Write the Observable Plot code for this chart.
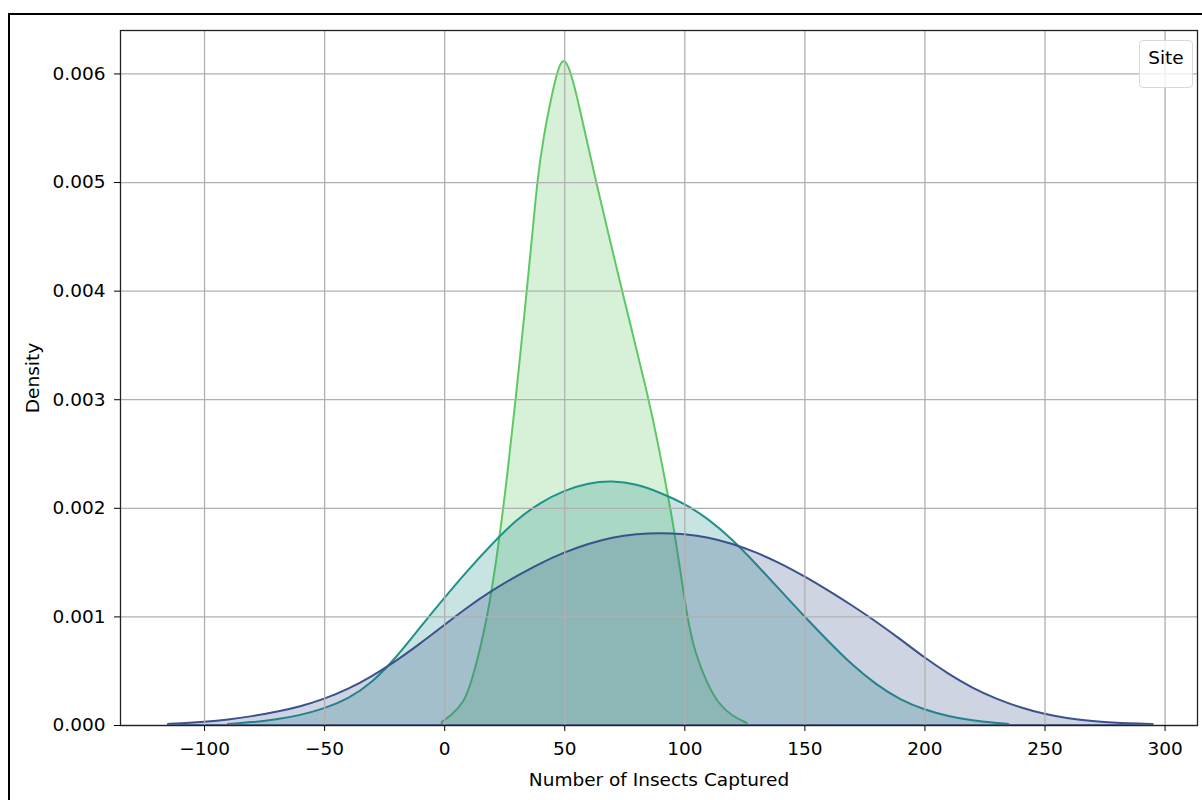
<!DOCTYPE html>
<html>
<head>
<meta charset="utf-8">
<script src="https://cdn.jsdelivr.net/npm/d3@7"></script>
<script src="https://cdn.jsdelivr.net/npm/@observablehq/plot@0.6"></script>
<style>
  html, body { margin: 0; padding: 0; background: #fff; overflow: hidden; width: 1202px; height: 800px; }
  #wrap { position: relative; width: 1202px; height: 800px; }
  #outer { position: absolute; left: 8px; top: 13px; width: 1300px; height: 900px; border: 2px solid #000; box-sizing: border-box; pointer-events: none; }
  #legend { position: absolute; left: 1139px; top: 40px; width: 54px; height: 48px; box-sizing: border-box;
            border: 1px solid #d9d9d9; border-radius: 4px; background: rgba(255,255,255,0.8);
            font-family: "DejaVu Sans", sans-serif; font-size: 18.5px; color: #000; text-align: center; line-height: 34px; }
  #chart { position: absolute; left: 0; top: 0; }
</style>
</head>
<body>
<div id="wrap">
  <div id="chart"></div>
  <div id="outer"></div>
  <div id="legend">Site</div>
</div>
<script>
// Site names (legend shows only the title "Site")
const sites = ["Site A", "Site B", "Site C"];
const siteColors = ["#3b528b", "#21918c", "#5ec962"];

// Site A (dark blue) density curve
const xA = [-115, -110, -100, -90, -80, -70, -60, -50, -40, -30, -20, -10, 0, 10, 20, 30, 40, 50, 60, 70, 80, 90, 100, 110, 120, 130, 140, 150, 160, 170, 180, 190, 200, 210, 220, 230, 240, 250, 260, 270, 280, 290, 295];
const dA = [0.00001, 0.000015, 0.00003, 0.00005, 0.00008, 0.00012, 0.00017, 0.00024, 0.00033, 0.00045, 0.00059, 0.00075, 0.00092, 0.00109, 0.00124, 0.00137, 0.00149, 0.00159, 0.00167, 0.00173, 0.00176, 0.00177, 0.00176, 0.00173, 0.00167, 0.00159, 0.00149, 0.00137, 0.00124, 0.0011, 0.00095, 0.00079, 0.00062, 0.00047, 0.00034, 0.00024, 0.00016, 0.0001, 0.00006, 0.000035, 0.00002, 0.000012, 0.00001];

// Site B (teal) density curve
const xB = [-90, -80, -70, -60, -50, -40, -30, -20, -10, 0, 10, 20, 30, 40, 50, 60, 70, 80, 90, 100, 110, 120, 130, 140, 150, 160, 170, 180, 190, 200, 210, 220, 230, 235];
const dB = [0.00001, 0.000025, 0.00005, 0.00009, 0.00015, 0.00024, 0.00039, 0.00062, 0.0009, 0.00117, 0.00143, 0.00167, 0.00189, 0.00205, 0.00216, 0.00223, 0.00225, 0.00222, 0.00214, 0.00204, 0.0019, 0.00171, 0.00148, 0.00124, 0.001, 0.00077, 0.00055, 0.00037, 0.00023, 0.00014, 0.00008, 0.00004, 0.00002, 0.00001];

// Site C (green) density curve
const xC = [-1, 2.5, 8, 11.5, 18.3, 22.9, 26.3, 29.8, 34.4, 36.9, 38.7, 41.2, 44.8, 47.3, 49.7, 52.2, 55.2, 58.7, 63.3, 68, 74, 85.3, 89.6, 92, 96.1, 101, 104.5, 109.3, 114, 120, 126];
const dC = [0.00003, 0.00008, 0.0002, 0.00039, 0.001, 0.0017, 0.0023, 0.003, 0.004, 0.00456, 0.005, 0.0054, 0.0058, 0.00604, 0.00615, 0.00605, 0.0058, 0.00545, 0.005, 0.00456, 0.004, 0.003, 0.00253, 0.00225, 0.00177, 0.001, 0.00066, 0.00039, 0.0002, 0.00008, 0.00002];

const xTicks = [-100, -50, 0, 50, 100, 150, 200, 250, 300];
const yTicks = [0, 0.001, 0.002, 0.003, 0.004, 0.005, 0.006];

const series = [
  {site: sites[0], xs: xA, ds: dA, color: siteColors[0]},
  {site: sites[1], xs: xB, ds: dB, color: siteColors[1]},
  {site: sites[2], xs: xC, ds: dC, color: siteColors[2]}
];

// draw in reverse order (last site first), as the original does
const areaMarks = series.slice().reverse().map(s => {
  const rows = s.xs.map((x, i) => ({site: s.site, x, d: s.ds[i]}));
  return Plot.areaY(rows, {
    x: "x", y: "d", curve: "basis",
    fill: s.color, fillOpacity: 0.25,
    stroke: s.color, strokeWidth: 2
  });
});

const chart = Plot.plot({
  width: 1202,
  height: 800,
  marginLeft: 120,
  marginTop: 30,
  marginRight: 5,
  marginBottom: 75,
  x: {domain: [-135, 313.5]},
  y: {domain: [0, 0.0064]},
  style: {fontFamily: "DejaVu Sans, sans-serif", fontSize: "18.5px", color: "#000", background: "transparent"},
  marks: [
    ...areaMarks,
    Plot.gridX(xTicks, {stroke: "#b0b0b0", strokeOpacity: 1, strokeWidth: 1.3}),
    Plot.gridY(yTicks, {stroke: "#b0b0b0", strokeOpacity: 1, strokeWidth: 1.3}),
    Plot.frame({stroke: "#222", strokeWidth: 1.3}),
    Plot.axisX(xTicks, {tickSize: 6, tickPadding: 10, label: null, fontSize: 18.5}),
    Plot.axisY(yTicks, {tickSize: 6, tickPadding: 9, label: null, fontSize: 18.5, tickFormat: d3.format(".3f")}),
    Plot.text(["Number of Insects Captured"], {frameAnchor: "bottom", dy: 60, lineAnchor: "bottom", textAnchor: "middle", fontSize: 18.5}),
    Plot.text(["Density"], {frameAnchor: "left", dx: -87, rotate: -90, lineAnchor: "middle", textAnchor: "middle", fontSize: 18.5})
  ]
});
document.getElementById("chart").appendChild(chart);
</script>
</body>
</html>
